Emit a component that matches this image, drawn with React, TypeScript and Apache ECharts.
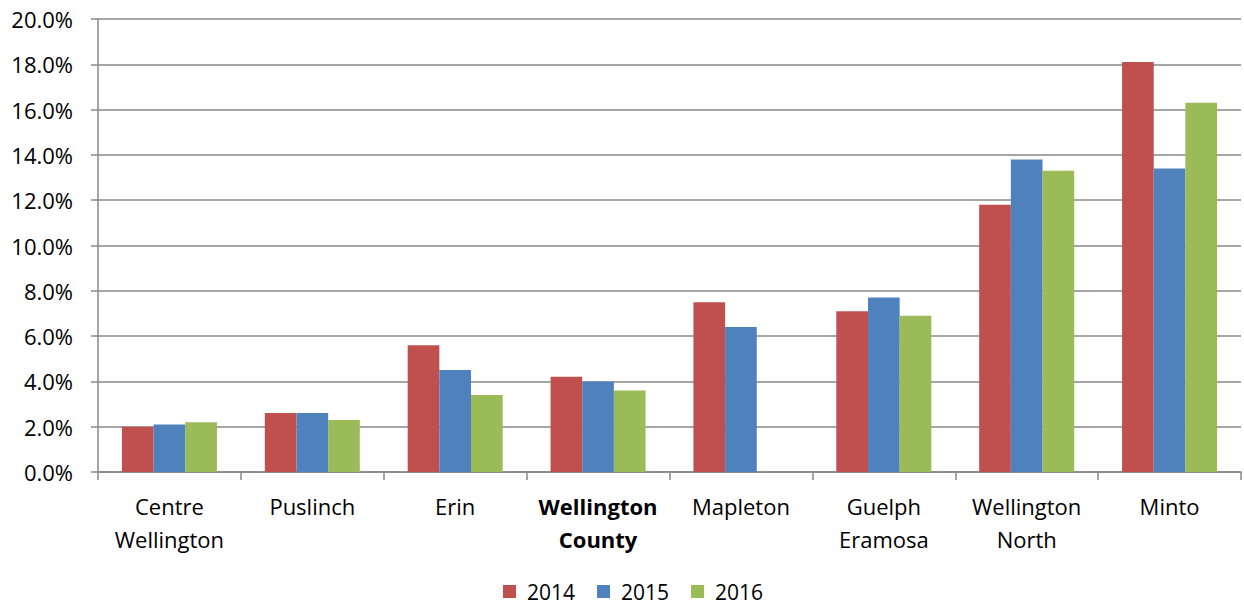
import React, { useEffect, useRef } from "react";
import * as echarts from "echarts";

const categories = [
  "Centre\nWellington",
  "Puslinch",
  "Erin",
  "Wellington\nCounty",
  "Mapleton",
  "Guelph\nEramosa",
  "Wellington\nNorth",
  "Minto",
];
const boldCategory = "Wellington\nCounty";
const seriesNames = ["2014", "2015", "2016"];
const s2014 = [2.0, 2.6, 5.6, 4.2, 7.5, 7.1, 11.8, 18.1];
const s2015 = [2.1, 2.6, 4.5, 4.0, 6.4, 7.7, 13.8, 13.4];
const s2016 = [2.2, 2.3, 3.4, 3.6, null, 6.9, 13.3, 16.3];
const colors = ["#C0504D", "#4F81BD", "#9BBB59"];

const FONT = "'Open Sans', sans-serif";
const FS = 22;

export default function App() {
  const ref = useRef<HTMLDivElement>(null);
  useEffect(() => {
    document.body.style.margin = "0";
    const chart = echarts.init(ref.current!, null, { renderer: "svg" });
    const data = [s2014, s2015, s2016];
    chart.setOption({
      animation: false,
      backgroundColor: "#ffffff",
      textStyle: { fontFamily: FONT },
      grid: { left: 98, right: 3, top: 19, bottom: 134, containLabel: false },
      legend: {
        left: 503,
        top: 581,
        padding: 0,
        itemWidth: 13,
        itemHeight: 13,
        itemGap: 22,
        icon: "rect",
        textStyle: {
          fontFamily: FONT,
          fontSize: 21,
          lineHeight: 21,
          color: "#000",
          padding: [0, 0, 0, 6],
        },
        data: seriesNames,
      },
      xAxis: {
        type: "category",
        data: categories,
        axisLine: { lineStyle: { color: "#888", width: 1.5 } },
        axisTick: { show: true, length: 8, lineStyle: { color: "#888", width: 1.5 } },
        axisLabel: {
          interval: 0,
          margin: 17,
          fontFamily: FONT,
          fontSize: FS,
          lineHeight: 33,
          color: "#000",
          formatter: (v: string) =>
            v === boldCategory
              ? v.split("\n").map((s) => `{b|${s}}`).join("\n")
              : v,
          rich: {
            b: {
              fontFamily: FONT,
              fontSize: FS,
              fontWeight: "bold",
              lineHeight: 33,
              color: "#000",
            },
          },
        },
      },
      yAxis: {
        type: "value",
        min: 0,
        max: 20,
        interval: 2,
        axisLine: { show: true, lineStyle: { color: "#888", width: 1.5 } },
        axisTick: { show: true, length: 7, lineStyle: { color: "#888", width: 1.5 } },
        splitLine: { lineStyle: { color: "#888", width: 1.5 } },
        axisLabel: {
          margin: 25,
          fontFamily: FONT,
          fontSize: FS,
          color: "#000",
          formatter: (v: number) => v.toFixed(1) + "%",
        },
      },
      series: seriesNames.map((n, i) => ({
        name: n,
        type: "bar",
        data: data[i],
        barGap: "0%",
        barCategoryGap: "33.5%",
        itemStyle: { color: colors[i] },
      })),
    });
    return () => chart.dispose();
  }, []);
  return <div ref={ref} style={{ width: 1244, height: 606 }} />;
}
